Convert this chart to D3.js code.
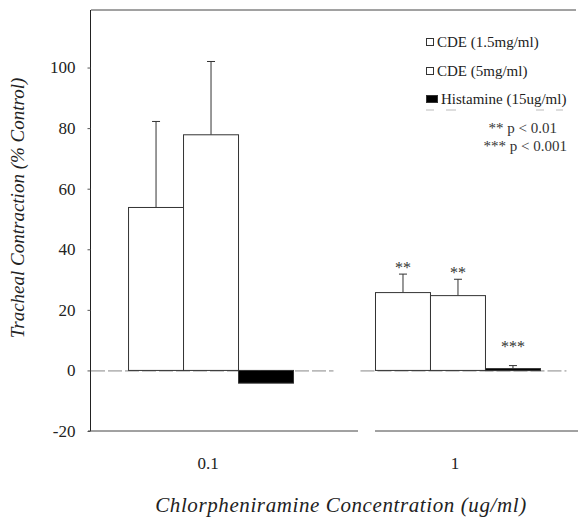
<!DOCTYPE html>
<html>
<head>
<meta charset="utf-8">
<script src="https://cdn.jsdelivr.net/npm/d3@7"></script>
<style>
  body { margin: 0; background: #fff; }
  svg text { font-family: "Liberation Serif", "Times New Roman", "DejaVu Serif", serif; }
</style>
</head>
<body>
<svg id="chart" width="578" height="517"></svg>
<script>
// values
var groups = ["0.1", "1"];
var series = ["CDE (1.5mg/ml)", "CDE (5mg/ml)", "Histamine (15ug/ml)"];
var means = [[53.8, 77.8, -4.2], [25.7, 24.7, 0.6]];
var errTop = [[82.2, 102, null], [31.8, 30.1, 1.6]];
var stars = [["", "", ""], ["**", "**", "***"]];
var yTicks = [-20, 0, 20, 40, 60, 80, 100];
var sigNotes = ["** p < 0.01", "*** p < 0.001"];
var fills = ["#fff", "#fff", "#000"];

var svg = d3.select("#chart");

var y = d3.scaleLinear().domain([-20, 119]).range([431, 10]);
var x = d3.scaleBand().domain(groups).range([91, 578])
  .paddingInner(0.332).paddingOuter(0.152);
var xi = d3.scaleBand().domain(series).range([0, x.bandwidth()]);

// frame: top line + y axis
svg.append("line").attr("x1", 91).attr("x2", 576).attr("y1", y(119)).attr("y2", y(119))
  .attr("stroke", "#444").attr("stroke-width", 1);

var yAxis = d3.axisLeft(y).tickValues(yTicks).tickSize(3).tickPadding(12)
  .tickFormat(function(d) { return String(d); });
var ga = svg.append("g").attr("transform", "translate(90.5,0)").call(yAxis);
ga.attr("font-family", null);
ga.select(".domain").attr("stroke", "#222").attr("d", "M0," + y(119) + "V" + y(-20));
ga.selectAll(".tick line").attr("stroke", "#555");
ga.selectAll("text").attr("font-size", 17).attr("fill", "#222");

// bottom axis, broken between groups
var brk = [358, 375];
svg.append("line").attr("x1", 88).attr("x2", brk[0]).attr("y1", y(-20)).attr("y2", y(-20))
  .attr("stroke", "#444");
svg.append("line").attr("x1", brk[1]).attr("x2", 578).attr("y1", y(-20)).attr("y2", y(-20))
  .attr("stroke", "#444");

// zero line per group
svg.append("line").attr("x1", 91).attr("x2", x(groups[0]) + x.bandwidth() + 40)
  .attr("y1", y(0) + 0.5).attr("y2", y(0) + 0.5)
  .attr("stroke", "#888").attr("stroke-dasharray", "14,3");
svg.append("line").attr("x1", x(groups[1]) - 15).attr("x2", x(groups[1]) + x.bandwidth() + 26)
  .attr("y1", y(0) + 0.5).attr("y2", y(0) + 0.5)
  .attr("stroke", "#888").attr("stroke-dasharray", "14,3");

// x tick labels
svg.selectAll("text.xl").data(groups).enter().append("text")
  .attr("class", "xl")
  .attr("x", function(d) { return x(d) + x.bandwidth() / 2 - 3; })
  .attr("y", 469).attr("text-anchor", "middle")
  .attr("font-size", 17).attr("fill", "#222")
  .text(function(d) { return d; });

// bars
var cells = [];
groups.forEach(function(g, gi) {
  series.forEach(function(s, si) {
    cells.push({ g: g, s: s, si: si, v: means[gi][si], e: errTop[gi][si], star: stars[gi][si] });
  });
});

var bar = svg.selectAll("g.cell").data(cells).enter().append("g").attr("class", "cell");

bar.append("line")
  .filter(function(d) { return d.e != null; })
  .attr("x1", function(d) { return x(d.g) + xi(d.s) + xi.bandwidth() / 2; })
  .attr("x2", function(d) { return x(d.g) + xi(d.s) + xi.bandwidth() / 2; })
  .attr("y1", function(d) { return y(Math.max(d.v, 0)); })
  .attr("y2", function(d) { return y(d.e); })
  .attr("stroke", "#333");
bar.append("line")
  .filter(function(d) { return d.e != null; })
  .attr("x1", function(d) { return x(d.g) + xi(d.s) + xi.bandwidth() / 2 - 4; })
  .attr("x2", function(d) { return x(d.g) + xi(d.s) + xi.bandwidth() / 2 + 4; })
  .attr("y1", function(d) { return y(d.e); })
  .attr("y2", function(d) { return y(d.e); })
  .attr("stroke", "#333");

bar.append("rect")
  .attr("x", function(d) { return x(d.g) + xi(d.s); })
  .attr("y", function(d) { return y(Math.max(d.v, 0)); })
  .attr("width", xi.bandwidth())
  .attr("height", function(d) { return Math.max(2, Math.abs(y(d.v) - y(0))); })
  .attr("fill", function(d) { return fills[d.si]; })
  .attr("stroke", "#333").attr("stroke-width", 1);

bar.append("text")
  .attr("x", function(d) { return x(d.g) + xi(d.s) + xi.bandwidth() / 2; })
  .attr("y", function(d) { return d.si == 2 ? y(d.e) - 14 : y(d.e) - 1; })
  .attr("text-anchor", "middle").attr("font-size", 16).attr("fill", "#333")
  .text(function(d) { return d.star; });

// legend
var boxW = [7, 7, 11];
var lg = svg.append("g").attr("transform", "translate(426,0)");
var lrows = lg.selectAll("g").data(series).enter().append("g")
  .attr("transform", function(d, i) { return "translate(0," + [42, 71, 99][i] + ")"; });
lrows.append("rect").attr("x", 0.5).attr("y", -3.5)
  .attr("width", function(d, i) { return boxW[i]; }).attr("height", 7)
  .attr("fill", function(d, i) { return fills[i]; }).attr("stroke", "#333");
lrows.append("text").attr("x", function(d, i) { return boxW[i] + 4; })
  .attr("y", 5).attr("font-size", 15).attr("fill", "#222")
  .text(function(d) { return d; });

svg.append("line").attr("x1", 426).attr("x2", 563).attr("y1", 110).attr("y2", 110)
  .attr("stroke", "#bbb").attr("stroke-dasharray", "8,12,10,80");

svg.selectAll("text.sig").data(sigNotes).enter().append("text")
  .attr("class", "sig").attr("x", function(d, i) { return [557, 567][i]; })
  .attr("y", function(d, i) { return [133, 151][i]; })
  .attr("text-anchor", "end").attr("font-size", 15).attr("fill", "#333")
  .text(function(d) { return d; });

// axis titles
svg.append("text").attr("transform", "translate(24,208) rotate(-90)")
  .attr("text-anchor", "middle").attr("font-style", "italic").attr("font-size", 19)
  .attr("fill", "#222").text("Tracheal Contraction (% Control)");
svg.append("text").attr("x", 341).attr("y", 512)
  .attr("text-anchor", "middle").attr("font-style", "italic").attr("font-size", 21)
  .attr("letter-spacing", 0.6)
  .attr("fill", "#222").text("Chlorpheniramine Concentration (ug/ml)");
</script>
</body>
</html>
